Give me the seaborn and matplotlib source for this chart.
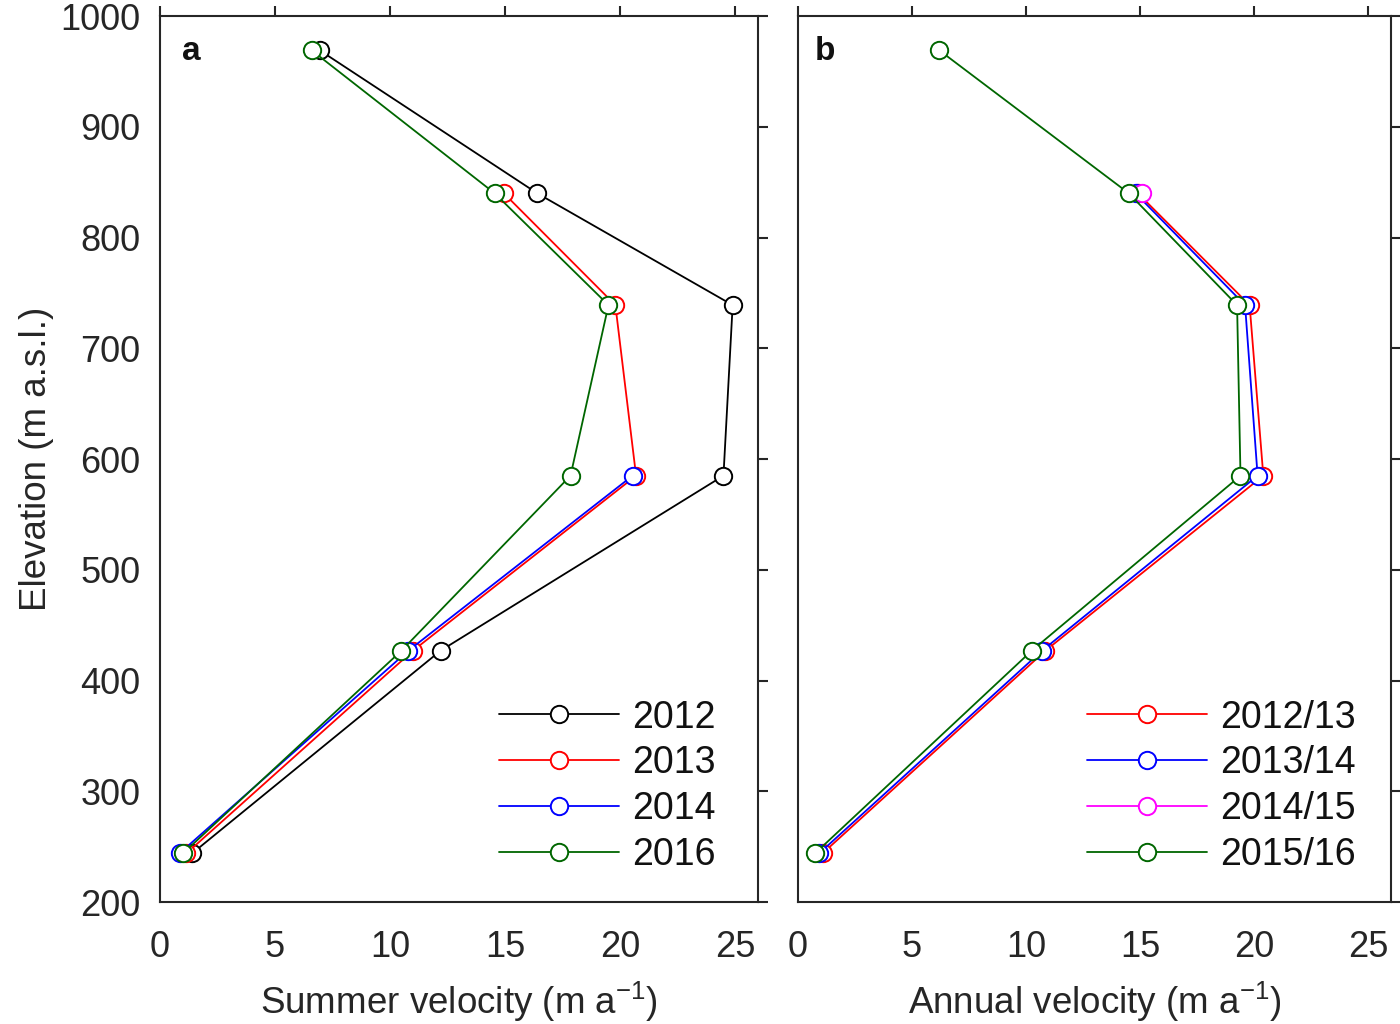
import matplotlib
matplotlib.use("Agg")
import matplotlib.pyplot as plt
import seaborn as sns
import pandas as pd

# elevation bands (m a.s.l.)
ELEV = [969, 840, 739, 585, 427, 244]

# panel a: summer velocity (m a-1)
summer_2012 = [6.95, 16.4, 24.9, 24.5, 12.2, 1.4]
summer_2013 = [None, 14.95, 19.8, 20.7, 11.0, 1.15]
summer_2014 = [None, None, None, 20.55, 10.8, 0.85]
summer_2016 = [6.6, 14.55, 19.5, 17.85, 10.5, 1.0]

# panel b: annual velocity (m a-1)
annual_1213 = [None, 14.9, 19.8, 20.4, 10.85, 1.08]
annual_1314 = [None, 14.8, 19.6, 20.15, 10.7, 0.93]
annual_1415 = [None, 15.1, None, None, None, None]
annual_1516 = [6.2, 14.5, 19.25, 19.4, 10.25, 0.75]

SUMMER_LABELS = ["2012", "2013", "2014", "2016"]
ANNUAL_LABELS = ["2012/13", "2013/14", "2014/15", "2015/16"]

BLACK = "#000000"
RED = "#FF0000"
BLUE = "#0000FF"
MAGENTA = "#FF00FF"
GREEN = "#006600"

FONT = "Liberation Sans"
FS_TICK = 26
FS_LABEL = 26.5
FS_LEGEND = 27


def _long(series, labels):
	rows = []
	for lab, vals in zip(labels, series):
		for e, v in zip(ELEV, vals):
			if v is not None:
				rows.append({"series": lab, "velocity": v, "elevation": e})
	return pd.DataFrame(rows)


def _draw_panel(ax, df, labels, colors, letter, letter_x, legend_x, xlabel):
	handles = []
	for lab, col in zip(labels, colors):
		sub = df[df["series"] == lab]
		sns.lineplot(
			data=sub, x="velocity", y="elevation", sort=False, estimator=None,
			color=col, linewidth=1.3, marker="o", markersize=12.5,
			mfc="white", mec=col, mew=1.4, legend=False, ax=ax,
		)
		handles.append(ax.get_lines()[-1])
	ax.set_xlim(0, 26)
	ax.set_ylim(200, 1000)
	ax.set_xticks([0, 5, 10, 15, 20, 25])
	ax.set_yticks(range(200, 1001, 100))
	ax.tick_params(which="both", direction="out", length=7, width=1.5,
		top=True, right=True, labelsize=FS_TICK, pad=7)
	ax.tick_params(axis="x", pad=13)
	for s in ax.spines.values():
		s.set_linewidth(1.5)
		s.set_visible(True)
	ax.set_xlabel(xlabel, fontsize=FS_LABEL, labelpad=11)
	ax.text(letter_x, 0.950, letter, transform=ax.transAxes, fontsize=24,
		fontweight="bold", va="baseline", ha="left")
	ax.legend(handles, labels, loc="lower right", frameon=False,
		fontsize=FS_LEGEND, handlelength=3.2, handletextpad=0.35,
		labelspacing=0.26, borderaxespad=0.0, bbox_to_anchor=(legend_x, 0.016))


sns.set_theme(style="white")
plt.rcParams["font.family"] = [FONT, "DejaVu Sans"]
plt.rcParams["mathtext.fontset"] = "custom"
plt.rcParams["mathtext.rm"] = FONT
plt.rcParams["mathtext.it"] = FONT
plt.rcParams["text.color"] = "#111111"

fig = plt.figure(figsize=(14, 10.24), dpi=100)
ax_a = fig.add_axes([0.1143, 0.1191, 0.4271, 0.8652])
ax_b = fig.add_axes([0.5700, 0.1191, 0.4236, 0.8652])

df_a = _long([summer_2012, summer_2013, summer_2014, summer_2016], SUMMER_LABELS)
df_b = _long([annual_1213, annual_1314, annual_1415, annual_1516], ANNUAL_LABELS)

_draw_panel(ax_a, df_a, SUMMER_LABELS, [BLACK, RED, BLUE, GREEN], "a", 0.036, 0.955,
	"Summer velocity (m a$^{-1}$)")
_draw_panel(ax_b, df_b, ANNUAL_LABELS, [RED, BLUE, MAGENTA, GREEN], "b", 0.028, 0.965,
	"Annual velocity (m a$^{-1}$)")

ax_a.set_ylabel("Elevation (m a.s.l.)", fontsize=FS_LABEL, labelpad=5)
ax_b.set_ylabel("")
ax_b.tick_params(labelleft=False)

fig.savefig("out.png", dpi=100)
